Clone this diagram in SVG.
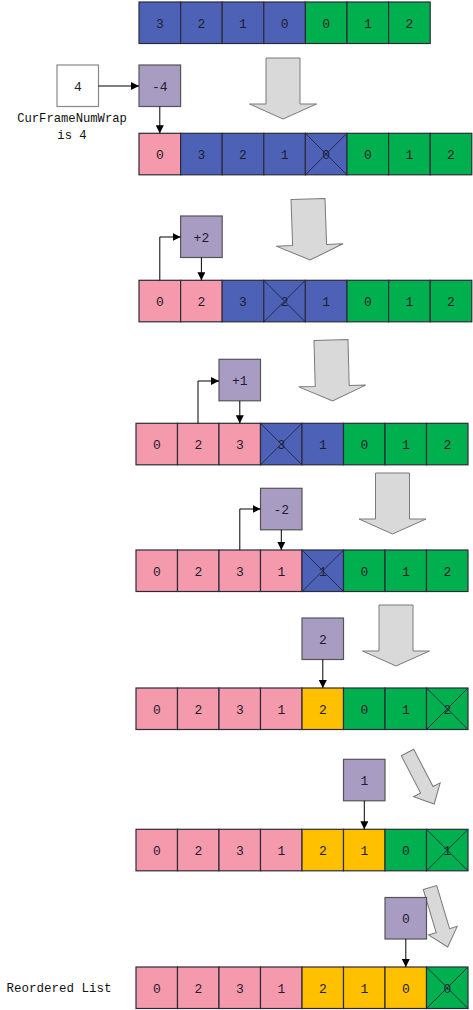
<svg xmlns="http://www.w3.org/2000/svg" xmlns:xlink="http://www.w3.org/1999/xlink" width="473" height="1010" viewBox="0 0 473 1010">
<style>
.c{stroke:#2b2b3a;stroke-width:1.2}
.b{fill:#4d62b6}
.g{fill:#00b04f}
.p{fill:#f59aac}
.y{fill:#ffc000}
.t{font-family:"Liberation Mono",monospace;font-size:13px;fill:#1e1e2e;text-anchor:middle}
.lbl{font-family:"Liberation Mono",monospace;font-size:12.2px;fill:#111;text-anchor:middle}
.op{fill:#a89cc2;stroke:#555;stroke-width:1.2}
.wb{fill:#fff;stroke:#888;stroke-width:1.2}
.x{stroke:#1e2548;stroke-width:0.9;fill:none}
.ba{fill:#d9d9d9;stroke:#7a7a7a;stroke-width:1}
.con{stroke:#000;stroke-width:1;fill:none;marker-end:url(#ah)}
</style>
<defs>
<marker id="ah" markerUnits="userSpaceOnUse" markerWidth="8" markerHeight="8" refX="8" refY="4" orient="auto"><path d="M0,0 L8,4 L0,8 z" fill="#000"/></marker>
<path id="xm" d="M0,0 L41.5,41.5 M41.5,0 L0,41.5"/>
<path id="big" d="M-17,0 H17 V46 H33.5 L0,61 L-33.5,46 H-17 Z"/>
</defs>

<g id="row1">
<g id="r1c1" transform="translate(139,2)"><rect class="c b" width="41.6" height="41.5"/><text class="t" x="20.8" y="25.5">3</text></g>
<g id="r1c2" transform="translate(180.6,2)"><rect class="c b" width="41.6" height="41.5"/><text class="t" x="20.8" y="25.5">2</text></g>
<g id="r1c3" transform="translate(222.2,2)"><rect class="c b" width="41.6" height="41.5"/><text class="t" x="20.8" y="25.5">1</text></g>
<g id="r1c4" transform="translate(263.8,2)"><rect class="c b" width="41.6" height="41.5"/><text class="t" x="20.8" y="25.5">0</text></g>
<g id="r1c5" transform="translate(305.4,2)"><rect class="c g" width="41.6" height="41.5"/><text class="t" x="20.8" y="25.5">0</text></g>
<g id="r1c6" transform="translate(347,2)"><rect class="c g" width="41.6" height="41.5"/><text class="t" x="20.8" y="25.5">1</text></g>
<g id="r1c7" transform="translate(388.6,2)"><rect class="c g" width="41.6" height="41.5"/><text class="t" x="20.8" y="25.5">2</text></g>
</g>

<g id="row2">
<g id="r2c1" transform="translate(139,133.3)"><rect class="c p" width="41.6" height="41.5"/><text class="t" x="20.8" y="25.5">0</text></g>
<g id="r2c2" transform="translate(180.6,133.3)"><rect class="c b" width="41.6" height="41.5"/><text class="t" x="20.8" y="25.5">3</text></g>
<g id="r2c3" transform="translate(222.2,133.3)"><rect class="c b" width="41.6" height="41.5"/><text class="t" x="20.8" y="25.5">2</text></g>
<g id="r2c4" transform="translate(263.8,133.3)"><rect class="c b" width="41.6" height="41.5"/><text class="t" x="20.8" y="25.5">1</text></g>
<g id="r2c5" transform="translate(305.4,133.3)"><rect class="c b" width="41.6" height="41.5"/><text class="t" x="20.8" y="25.5">0</text><use href="#xm" class="x"/></g>
<g id="r2c6" transform="translate(347,133.3)"><rect class="c g" width="41.6" height="41.5"/><text class="t" x="20.8" y="25.5">0</text></g>
<g id="r2c7" transform="translate(388.6,133.3)"><rect class="c g" width="41.6" height="41.5"/><text class="t" x="20.8" y="25.5">1</text></g>
<g id="r2c8" transform="translate(430.2,133.3)"><rect class="c g" width="41.6" height="41.5"/><text class="t" x="20.8" y="25.5">2</text></g>
</g>

<g id="row3">
<g id="r3c1" transform="translate(139,280.3)"><rect class="c p" width="41.6" height="41.5"/><text class="t" x="20.8" y="25.5">0</text></g>
<g id="r3c2" transform="translate(180.6,280.3)"><rect class="c p" width="41.6" height="41.5"/><text class="t" x="20.8" y="25.5">2</text></g>
<g id="r3c3" transform="translate(222.2,280.3)"><rect class="c b" width="41.6" height="41.5"/><text class="t" x="20.8" y="25.5">3</text></g>
<g id="r3c4" transform="translate(263.8,280.3)"><rect class="c b" width="41.6" height="41.5"/><text class="t" x="20.8" y="25.5">2</text><use href="#xm" class="x"/></g>
<g id="r3c5" transform="translate(305.4,280.3)"><rect class="c b" width="41.6" height="41.5"/><text class="t" x="20.8" y="25.5">1</text></g>
<g id="r3c6" transform="translate(347,280.3)"><rect class="c g" width="41.6" height="41.5"/><text class="t" x="20.8" y="25.5">0</text></g>
<g id="r3c7" transform="translate(388.6,280.3)"><rect class="c g" width="41.6" height="41.5"/><text class="t" x="20.8" y="25.5">1</text></g>
<g id="r3c8" transform="translate(430.2,280.3)"><rect class="c g" width="41.6" height="41.5"/><text class="t" x="20.8" y="25.5">2</text></g>
</g>

<g id="row4">
<g id="r4c1" transform="translate(136,423.3)"><rect class="c p" width="41.5" height="41.5"/><text class="t" x="20.8" y="25.5">0</text></g>
<g id="r4c2" transform="translate(177.5,423.3)"><rect class="c p" width="41.5" height="41.5"/><text class="t" x="20.8" y="25.5">2</text></g>
<g id="r4c3" transform="translate(219,423.3)"><rect class="c p" width="41.5" height="41.5"/><text class="t" x="20.8" y="25.5">3</text></g>
<g id="r4c4" transform="translate(260.5,423.3)"><rect class="c b" width="41.5" height="41.5"/><text class="t" x="20.8" y="25.5">3</text><use href="#xm" class="x"/></g>
<g id="r4c5" transform="translate(302,423.3)"><rect class="c b" width="41.5" height="41.5"/><text class="t" x="20.8" y="25.5">1</text></g>
<g id="r4c6" transform="translate(343.5,423.3)"><rect class="c g" width="41.5" height="41.5"/><text class="t" x="20.8" y="25.5">0</text></g>
<g id="r4c7" transform="translate(385,423.3)"><rect class="c g" width="41.5" height="41.5"/><text class="t" x="20.8" y="25.5">1</text></g>
<g id="r4c8" transform="translate(426.5,423.3)"><rect class="c g" width="41.5" height="41.5"/><text class="t" x="20.8" y="25.5">2</text></g>
</g>

<g id="row5">
<g id="r5c1" transform="translate(136,550)"><rect class="c p" width="41.5" height="41.5"/><text class="t" x="20.8" y="25.5">0</text></g>
<g id="r5c2" transform="translate(177.5,550)"><rect class="c p" width="41.5" height="41.5"/><text class="t" x="20.8" y="25.5">2</text></g>
<g id="r5c3" transform="translate(219,550)"><rect class="c p" width="41.5" height="41.5"/><text class="t" x="20.8" y="25.5">3</text></g>
<g id="r5c4" transform="translate(260.5,550)"><rect class="c p" width="41.5" height="41.5"/><text class="t" x="20.8" y="25.5">1</text></g>
<g id="r5c5" transform="translate(302,550)"><rect class="c b" width="41.5" height="41.5"/><text class="t" x="20.8" y="25.5">1</text><use href="#xm" class="x"/></g>
<g id="r5c6" transform="translate(343.5,550)"><rect class="c g" width="41.5" height="41.5"/><text class="t" x="20.8" y="25.5">0</text></g>
<g id="r5c7" transform="translate(385,550)"><rect class="c g" width="41.5" height="41.5"/><text class="t" x="20.8" y="25.5">1</text></g>
<g id="r5c8" transform="translate(426.5,550)"><rect class="c g" width="41.5" height="41.5"/><text class="t" x="20.8" y="25.5">2</text></g>
</g>

<g id="row6">
<g id="r6c1" transform="translate(136,688)"><rect class="c p" width="41.5" height="41.5"/><text class="t" x="20.8" y="25.5">0</text></g>
<g id="r6c2" transform="translate(177.5,688)"><rect class="c p" width="41.5" height="41.5"/><text class="t" x="20.8" y="25.5">2</text></g>
<g id="r6c3" transform="translate(219,688)"><rect class="c p" width="41.5" height="41.5"/><text class="t" x="20.8" y="25.5">3</text></g>
<g id="r6c4" transform="translate(260.5,688)"><rect class="c p" width="41.5" height="41.5"/><text class="t" x="20.8" y="25.5">1</text></g>
<g id="r6c5" transform="translate(302,688)"><rect class="c y" width="41.5" height="41.5"/><text class="t" x="20.8" y="25.5">2</text></g>
<g id="r6c6" transform="translate(343.5,688)"><rect class="c g" width="41.5" height="41.5"/><text class="t" x="20.8" y="25.5">0</text></g>
<g id="r6c7" transform="translate(385,688)"><rect class="c g" width="41.5" height="41.5"/><text class="t" x="20.8" y="25.5">1</text></g>
<g id="r6c8" transform="translate(426.5,688)"><rect class="c g" width="41.5" height="41.5"/><text class="t" x="20.8" y="25.5">2</text><use href="#xm" class="x"/></g>
</g>

<g id="row7">
<g id="r7c1" transform="translate(136,829.3)"><rect class="c p" width="41.5" height="41.5"/><text class="t" x="20.8" y="25.5">0</text></g>
<g id="r7c2" transform="translate(177.5,829.3)"><rect class="c p" width="41.5" height="41.5"/><text class="t" x="20.8" y="25.5">2</text></g>
<g id="r7c3" transform="translate(219,829.3)"><rect class="c p" width="41.5" height="41.5"/><text class="t" x="20.8" y="25.5">3</text></g>
<g id="r7c4" transform="translate(260.5,829.3)"><rect class="c p" width="41.5" height="41.5"/><text class="t" x="20.8" y="25.5">1</text></g>
<g id="r7c5" transform="translate(302,829.3)"><rect class="c y" width="41.5" height="41.5"/><text class="t" x="20.8" y="25.5">2</text></g>
<g id="r7c6" transform="translate(343.5,829.3)"><rect class="c y" width="41.5" height="41.5"/><text class="t" x="20.8" y="25.5">1</text></g>
<g id="r7c7" transform="translate(385,829.3)"><rect class="c g" width="41.5" height="41.5"/><text class="t" x="20.8" y="25.5">0</text></g>
<g id="r7c8" transform="translate(426.5,829.3)"><rect class="c g" width="41.5" height="41.5"/><text class="t" x="20.8" y="25.5">1</text><use href="#xm" class="x"/></g>
</g>

<g id="row8">
<g id="r8c1" transform="translate(136,967)"><rect class="c p" width="41.5" height="41.5"/><text class="t" x="20.8" y="25.5">0</text></g>
<g id="r8c2" transform="translate(177.5,967)"><rect class="c p" width="41.5" height="41.5"/><text class="t" x="20.8" y="25.5">2</text></g>
<g id="r8c3" transform="translate(219,967)"><rect class="c p" width="41.5" height="41.5"/><text class="t" x="20.8" y="25.5">3</text></g>
<g id="r8c4" transform="translate(260.5,967)"><rect class="c p" width="41.5" height="41.5"/><text class="t" x="20.8" y="25.5">1</text></g>
<g id="r8c5" transform="translate(302,967)"><rect class="c y" width="41.5" height="41.5"/><text class="t" x="20.8" y="25.5">2</text></g>
<g id="r8c6" transform="translate(343.5,967)"><rect class="c y" width="41.5" height="41.5"/><text class="t" x="20.8" y="25.5">1</text></g>
<g id="r8c7" transform="translate(385,967)"><rect class="c y" width="41.5" height="41.5"/><text class="t" x="20.8" y="25.5">0</text></g>
<g id="r8c8" transform="translate(426.5,967)"><rect class="c g" width="41.5" height="41.5"/><text class="t" x="20.8" y="25.5">0</text><use href="#xm" class="x"/></g>
</g>

<g id="step-arrows">
<use href="#big" class="ba" transform="translate(283,58)"/>
<use href="#big" class="ba" transform="translate(308,199) rotate(-2)"/>
<use href="#big" class="ba" transform="translate(331,340) rotate(-1.5)"/>
<use href="#big" class="ba" transform="translate(392.5,473)"/>
<use href="#big" class="ba" transform="translate(396,605)"/>
<path class="ba" d="M-7,0 H7 V42 H15 L0,58 L-15,42 H-7 Z" transform="translate(407.5,752.5) rotate(-27.4)"/>
<path class="ba" d="M-7,0 H7 V45 H15 L0,62 L-15,45 H-7 Z" transform="translate(430,887.5) rotate(-16.6)"/>
</g>

<g id="wrap">
<rect class="wb" x="57" y="65" width="41.5" height="41.5"/>
<text class="t" x="77.8" y="90.5">4</text>
</g>
<g id="wrap-label">
<text class="lbl" x="72" y="121.5">CurFrameNumWrap</text>
<text class="lbl" x="72" y="138.5">is 4</text>
</g>

<g id="op1"><rect class="op" x="139" y="65" width="41.6" height="41.5"/><text class="t" x="159.8" y="90.5">-4</text></g>
<g id="op2"><rect class="op" x="180.6" y="216" width="41.6" height="41.5"/><text class="t" x="201.4" y="241.5">+2</text></g>
<g id="op3"><rect class="op" x="219" y="359.3" width="41.5" height="41.5"/><text class="t" x="239.8" y="384.8">+1</text></g>
<g id="op4"><rect class="op" x="260.5" y="488.3" width="41.5" height="41.5"/><text class="t" x="281.3" y="513.8">-2</text></g>
<g id="op5"><rect class="op" x="302" y="618" width="41.5" height="41.5"/><text class="t" x="322.8" y="643.5">2</text></g>
<g id="op6"><rect class="op" x="343.5" y="759.3" width="41.5" height="41.5"/><text class="t" x="364.3" y="784.8">1</text></g>
<g id="op7"><rect class="op" x="385" y="897.5" width="41.5" height="41.5"/><text class="t" x="405.8" y="923">0</text></g>

<g id="connectors">
<path class="con" d="M98.5,86 H139"/>
<path class="con" d="M159.8,106.5 V133.3"/>
<path class="con" d="M159.8,280.3 V237 H180.6"/>
<path class="con" d="M201.4,257.5 V280.3"/>
<path class="con" d="M198,423.3 V381 H219"/>
<path class="con" d="M239.8,400.8 V423.3"/>
<path class="con" d="M239.8,550 V509 H260.5"/>
<path class="con" d="M281.3,529.8 V550"/>
<path class="con" d="M322.8,659.5 V688"/>
<path class="con" d="M364.3,800.8 V829.3"/>
<path class="con" d="M405.8,939 V967"/>
</g>

<g id="result-label">
<text class="lbl" x="59" y="992" style="font-size:12.5px">Reordered List</text>
</g>
</svg>
